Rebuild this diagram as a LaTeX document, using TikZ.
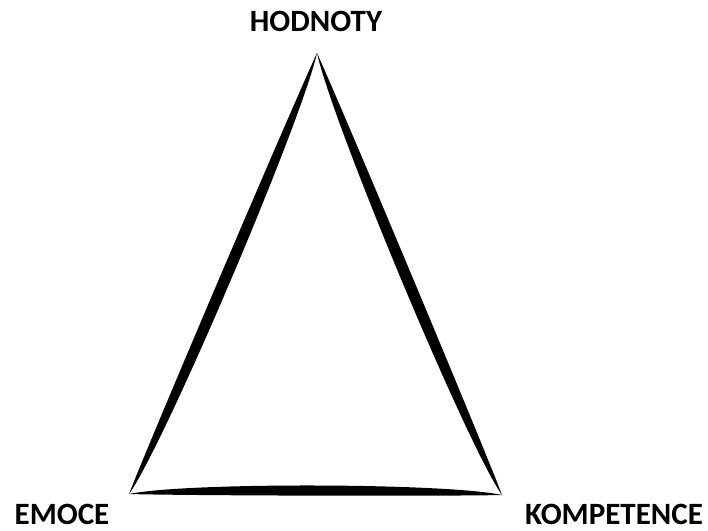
\documentclass[tikz,border=0pt]{standalone}
\usepackage{fontspec}
\setmainfont{Carlito}
\usetikzlibrary{calc}

\begin{document}
\begin{tikzpicture}[
  x=1pt, y=1pt,
  every node/.style={font=\bfseries\fontsize{31}{37}\selectfont},
  corner/.style={inner sep=0pt, anchor=base},
  brush/.style={fill=black, draw=none},
]
\useasboundingbox (0,0) rectangle (708,530);

% vertices of the triangle
\coordinate (top) at (317,477);
\coordinate (left) at (129,36);
\coordinate (right) at (502,35);

% labels
\node[corner] (hodnoty) at (316,498) {HODNOTY};
\node[corner] (emoce) at (62,6) {EMOCE};
\node[corner] (kompetence) at (614,6) {KOMPETENCE};

% tapered sides, bulging inwards
\fill[brush] (left) .. controls ($(left)!0.12!(top)!13pt!-90:(top)$) and ($(left)!0.85!(top)!13pt!-90:(top)$) .. (top)
  .. controls ($(left)!0.85!(top)!2pt!90:(top)$) and ($(left)!0.12!(top)!2pt!90:(top)$) .. (left) -- cycle;
\fill[brush] (top) .. controls ($(top)!0.15!(right)!13pt!-90:(right)$) and ($(top)!0.88!(right)!13pt!-90:(right)$) .. (right)
  .. controls ($(top)!0.88!(right)!2pt!90:(right)$) and ($(top)!0.15!(right)!2pt!90:(right)$) .. (top) -- cycle;
\fill[brush] (right) .. controls ($(right)!0.15!(left)!12pt!-90:(left)$) and ($(right)!0.85!(left)!12pt!-90:(left)$) .. (left)
  .. controls ($(right)!0.85!(left)!1.5pt!90:(left)$) and ($(right)!0.15!(left)!1.5pt!90:(left)$) .. (right) -- cycle;

\end{tikzpicture}
\end{document}
